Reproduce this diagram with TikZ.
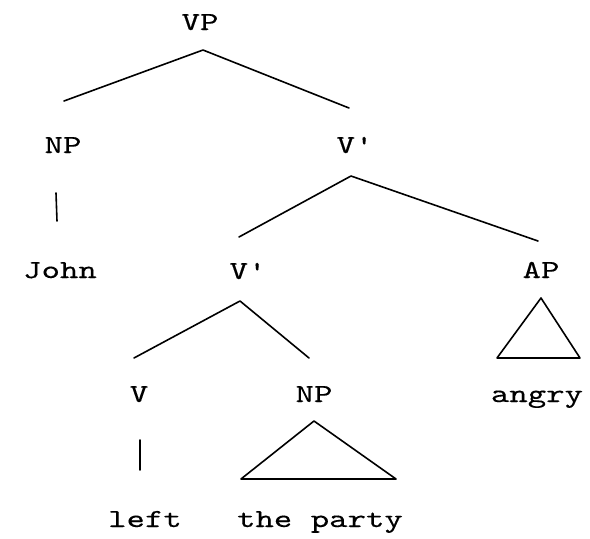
\documentclass[tikz,border=0pt]{standalone}
\usepackage{fontspec}
\newfontfamily\treefont[FakeStretch=1.35,FakeBold=0.25]{lmmono10-regular.otf}
\begin{document}
\begin{tikzpicture}[x=1pt,y=-1pt,
  lab/.style={font=\treefont\fontsize{26}{26}\selectfont, anchor=base, inner sep=0pt},
  branch/.style={line width=1.6pt, line cap=round, line join=round}]
\useasboundingbox (0,0) rectangle (590,539);
% labels
\node[lab] (vp) at (200,30) {VP};
\node[lab] (np1) at (63,153) {NP};
\node[lab] (vbar1) at (355,153) {V'};
\node[lab] (john) at (60,278) {John};
\node[lab] (vbar2) at (248,279) {V'};
\node[lab] (ap) at (541,278) {AP};
\node[lab] (v) at (139,402) {V};
\node[lab] (np2) at (314,402) {NP};
\node[lab] (angry) at (537,402) {angry};
\node[lab] (left) at (145,527) {left};
\node[lab] (party) at (320,527) {the party};
% branch points
\coordinate (vpA) at (203,50);
\coordinate (vpL) at (64,101);
\coordinate (vpR) at (349,108);
\coordinate (npT) at (56,193);
\coordinate (npB) at (57,221);
\coordinate (vb1A) at (351,176);
\coordinate (vb1L) at (239,237);
\coordinate (vb1R) at (538,241);
\coordinate (vb2A) at (240,301);
\coordinate (vb2L) at (134,358);
\coordinate (vb2R) at (309,358);
\coordinate (vT) at (140,440);
\coordinate (vB) at (140,470);
\coordinate (apA) at (541,298);
\coordinate (apL) at (497,358);
\coordinate (apR) at (580,358);
\coordinate (np2A) at (314,421);
\coordinate (np2L) at (241,479);
\coordinate (np2R) at (396,479);
% branches
\draw[branch] (vpL) -- (vpA) -- (vpR);
\draw[branch] (npT) -- (npB);
\draw[branch] (vb1L) -- (vb1A) -- (vb1R);
\draw[branch] (vb2L) -- (vb2A) -- (vb2R);
\draw[branch] (vT) -- (vB);
\draw[branch] (apA) -- (apL) -- (apR) -- cycle;
\draw[branch] (np2A) -- (np2L) -- (np2R) -- cycle;
\end{tikzpicture}
\end{document}
